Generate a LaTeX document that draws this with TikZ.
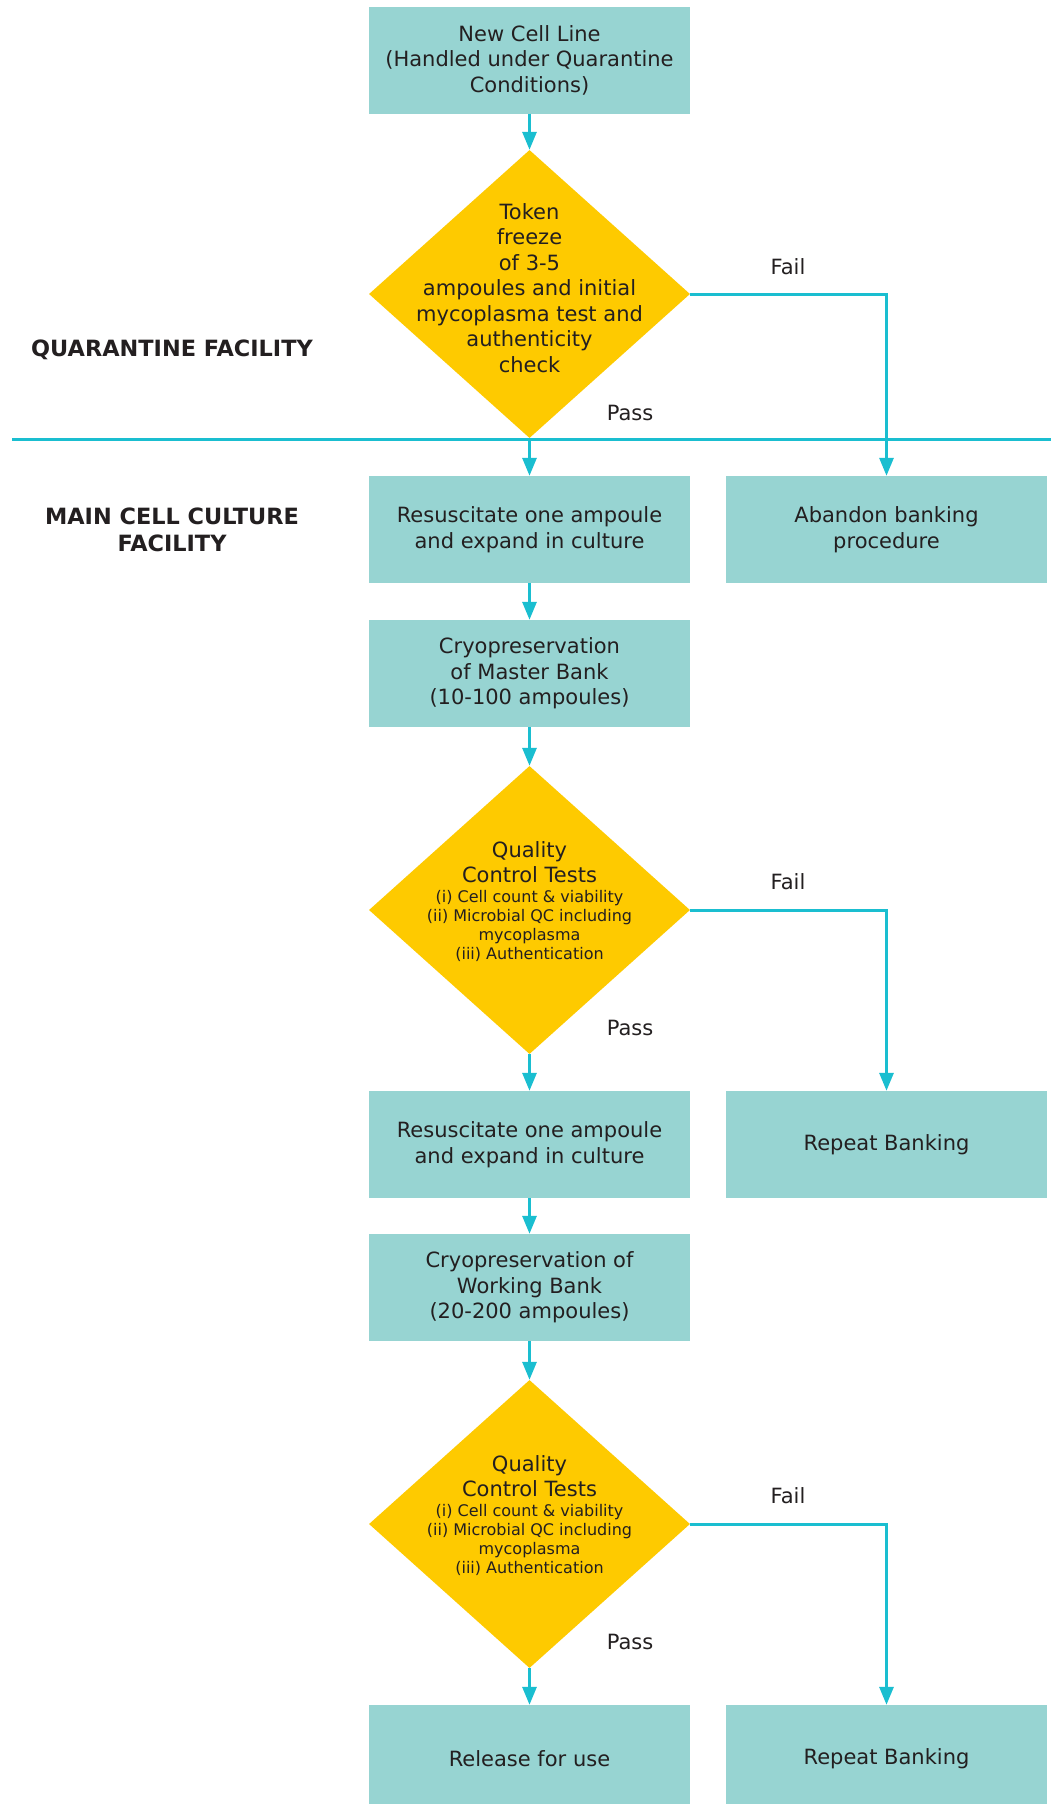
\documentclass[tikz,border=0pt]{standalone}
\usepackage{fontspec}
\setmainfont{DejaVu Sans}
\usetikzlibrary{shapes.geometric,arrows.meta}
\definecolor{boxc}{RGB}{151,212,210}
\definecolor{diac}{RGB}{254,202,0}
\definecolor{linec}{RGB}{26,190,208}
\definecolor{txt}{RGB}{35,31,32}
\begin{document}
\begin{tikzpicture}[x=1pt,y=-1pt,
 proc/.style={rectangle, fill=boxc, minimum width=321pt, minimum height=107pt, inner sep=0pt, align=center, text=txt, font=\fontsize{21}{25.5}\selectfont},
 dia/.style={diamond, fill=diac, minimum width=321pt, minimum height=288pt, inner sep=0pt},
 dtext/.style={align=center, text=txt, font=\fontsize{21}{25.5}\selectfont, inner sep=0pt},
 dsmall/.style={align=center, text=txt, font=\fontsize{16}{19}\selectfont, inner sep=0pt},
 lab/.style={text=txt, font=\fontsize{21}{25}\selectfont, inner sep=0pt},
 side/.style={text=txt, align=center, font=\fontsize{22.4}{26.5}\selectfont\bfseries, inner sep=0pt},
 conn/.style={draw=linec, line width=3pt, -{Triangle[length=18pt,width=14pt]}},
 sepline/.style={draw=linec, line width=3pt}]
\useasboundingbox (0,0) rectangle (1051,1804);
\fill[white] (0,0) rectangle (1051,1804);

% boxes
\node[proc] (n1) at (529.5,60) {New Cell Line\\(Handled under Quarantine\\Conditions)};
\node[dia] (d1) at (529.5,294) {};
\node[dtext] (d1t) at (529.5,288) {Token\\freeze\\of 3-5\\ampoules and initial\\mycoplasma test and\\authenticity\\check};

\node[proc] (r1) at (529.5,529.5) {Resuscitate one ampoule\\and expand in culture};
\node[proc] (a1) at (886.5,529.5) {Abandon banking\\procedure};
\node[proc] (m1) at (529.5,673.5) {Cryopreservation\\of Master Bank\\(10-100 ampoules)};

\node[dia] (d2) at (529.5,910) {};
\node[dtext] (d2t) at (529.5,862) {Quality\\Control Tests};
\node[dsmall] (d2s) at (529.5,926) {(i) Cell count \& viability\\(ii) Microbial QC including\\mycoplasma\\(iii) Authentication};

\node[proc] (r2) at (529.5,1144.5) {Resuscitate one ampoule\\and expand in culture};
\node[proc] (b1) at (886.5,1144.5) {Repeat Banking};
\node[proc] (w1) at (529.5,1287.5) {Cryopreservation of\\Working Bank\\(20-200 ampoules)};

\node[dia] (d3) at (529.5,1524) {};
\node[dtext] (d3t) at (529.5,1476) {Quality\\Control Tests};
\node[dsmall] (d3s) at (529.5,1540) {(i) Cell count \& viability\\(ii) Microbial QC including\\mycoplasma\\(iii) Authentication};

\node[proc] (u1) at (529.5,1758.5) {Release for use};
\node[proc] (b2) at (886.5,1758.5) {Repeat Banking};

% side labels
\node[side] (q1) at (172,350) {QUARANTINE FACILITY};
\node[side] (q2) at (172,530) {MAIN CELL CULTURE\\FACILITY};

% separator
\coordinate (sl) at (12,439);
\coordinate (sr) at (1051,439);
\draw[sepline] (sl) -- (sr);

% labels
\node[lab] (f1) at (788,267) {Fail};
\node[lab] (p1) at (630,413) {Pass};
\node[lab] (f2) at (788,882) {Fail};
\node[lab] (p2) at (630,1028) {Pass};
\node[lab] (f3) at (788,1496) {Fail};
\node[lab] (p3) at (630,1642) {Pass};

% connectors
\draw[conn] (n1.south) -- (d1.north);
\draw[conn] (d1.south) -- (r1.north);
\draw[conn] (d1.east) -| (a1.north);
\draw[conn] (r1.south) -- (m1.north);
\draw[conn] (m1.south) -- (d2.north);
\draw[conn] (d2.south) -- (r2.north);
\draw[conn] (d2.east) -| (b1.north);
\draw[conn] (r2.south) -- (w1.north);
\draw[conn] (w1.south) -- (d3.north);
\draw[conn] (d3.south) -- (u1.north);
\draw[conn] (d3.east) -| (b2.north);
\end{tikzpicture}
\end{document}
